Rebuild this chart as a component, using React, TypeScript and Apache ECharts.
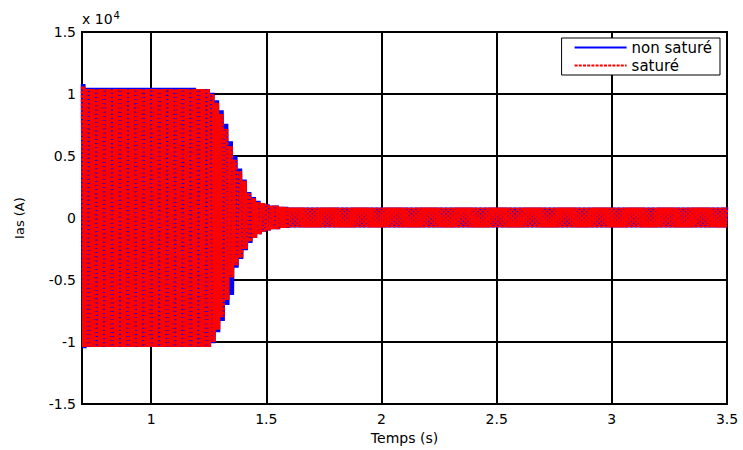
import React, { useEffect, useRef } from "react";
import * as echarts from "echarts";

// Envelope knots (time in s, peaks in units of 1e4 A)
const envTimes = [0.70, 0.72, 1.20, 1.26, 1.28, 1.30, 1.32, 1.34, 1.36, 1.38, 1.40, 1.42, 1.44, 1.46, 1.48, 1.50, 1.52, 1.56, 1.60, 3.50];
const redUpper = [1.06, 1.04, 1.04, 1.00, 0.93, 0.84, 0.72, 0.58, 0.47, 0.38, 0.30, 0.20, 0.16, 0.13, 0.12, 0.11, 0.10, 0.09, 0.085, 0.085];
const redLower = [-1.04, -1.04, -1.04, -1.00, -0.90, -0.80, -0.66, -0.48, -0.38, -0.32, -0.25, -0.19, -0.16, -0.13, -0.11, -0.10, -0.09, -0.08, -0.075, -0.075];
const blueUpper = [1.08, 1.05, 1.04, 1.01, 0.95, 0.87, 0.76, 0.62, 0.50, 0.40, 0.31, 0.21, 0.17, 0.14, 0.12, 0.11, 0.10, 0.09, 0.085, 0.085];
const blueLower = [-1.05, -1.04, -1.04, -1.01, -0.92, -0.83, -0.70, -0.62, -0.40, -0.33, -0.26, -0.20, -0.16, -0.13, -0.11, -0.10, -0.09, -0.08, -0.075, -0.075];

const seriesNames = ["non saturé", "saturé"];
const yTickLabels = ["-1.5", "-1", "-0.5", "0", "0.5", "1", "1.5"];

const tStart = 0.7;
const tEnd = 3.5;
const halfPeriod = 0.005; // drawn peak spacing (s)
const scale = 1e4;

function buildWave(up: number[], lo: number[]): number[][] {
  const pts: number[][] = [];
  const n = Math.round((tEnd - tStart) / halfPeriod);
  let j = 0;
  for (let k = 0; k <= n; k++) {
    const t = +(tStart + k * halfPeriod).toFixed(4);
    while (j + 1 < envTimes.length && envTimes[j + 1] <= t + 1e-9) j++;
    const v = k % 2 === 0 ? up[j] : lo[j];
    pts.push([t, v * scale]);
  }
  return pts;
}

const FONT = "'DejaVu Sans', 'Liberation Sans', Arial, sans-serif";

export default function App() {
  const ref = useRef<HTMLDivElement>(null);
  useEffect(() => {
    if (!ref.current) return;
    const chart = echarts.init(ref.current, undefined, { renderer: "svg" });
    const yLabelMap: Record<string, string> = {};
    [-15000, -10000, -5000, 0, 5000, 10000, 15000].forEach((v, i) => {
      yLabelMap[String(v)] = yTickLabels[i];
    });
    chart.setOption({
      animation: false,
      backgroundColor: "#ffffff",
      textStyle: { fontFamily: FONT },
      grid: {
        left: 82,
        right: 16,
        top: 32,
        bottom: 39,
        show: true,
        borderColor: "#000",
        borderWidth: 2,
        backgroundColor: "transparent",
      },
      legend: {
        data: seriesNames,
        orient: "vertical",
        right: 23,
        top: 38,
        itemWidth: 52,
        itemHeight: 14,
        itemGap: 3,
        padding: [2, 8, 2, 12],
        borderColor: "#000",
        borderWidth: 1,
        backgroundColor: "#fff",
        itemStyle: { opacity: 0 },
        textStyle: { fontSize: 15, color: "#000", fontFamily: FONT },
      },
      graphic: [
        {
          type: "text",
          left: 82,
          top: 10,
          style: {
            text: "x 10{sup|4}",
            fontSize: 14,
            fontFamily: FONT,
            fill: "#000",
            rich: {
              sup: { fontSize: 10, verticalAlign: "top", padding: [0, 0, 8, 1], fontFamily: FONT },
            },
          },
        },
      ],
      xAxis: {
        type: "value",
        min: tStart,
        max: tEnd,
        splitNumber: 6,
        name: "Temps (s)",
        nameLocation: "middle",
        nameGap: 20,
        nameTextStyle: { fontSize: 14, color: "#000", fontFamily: FONT },
        axisLine: { show: true, lineStyle: { color: "#000", width: 2 } },
        axisTick: { show: false },
        axisLabel: {
          showMinLabel: false,
          fontSize: 14,
          color: "#000",
          margin: 8,
          fontFamily: FONT,
        },
        splitLine: { show: true, lineStyle: { color: "#000", width: 2 } },
      },
      yAxis: {
        type: "value",
        min: -15000,
        max: 15000,
        interval: 5000,
        name: "Ias (A)",
        nameLocation: "middle",
        nameGap: 56,
        nameTextStyle: { fontSize: 13, color: "#000", fontFamily: FONT },
        axisLine: { show: true, lineStyle: { color: "#000", width: 2 } },
        axisTick: { show: false },
        axisLabel: {
          fontSize: 14,
          color: "#000",
          margin: 6,
          fontFamily: FONT,
          formatter: (v: number) => yLabelMap[String(Math.round(v))] ?? String(v / scale),
        },
        splitLine: { show: true, lineStyle: { color: "#000", width: 2 } },
      },
      series: [
        {
          name: seriesNames[0],
          type: "line",
          data: buildWave(blueUpper, blueLower),
          symbol: "none",
          showSymbol: false,
          lineStyle: { color: "#0000ff", width: 2.5 },
          itemStyle: { color: "#0000ff" },
          z: 2,
        },
        {
          name: seriesNames[1],
          type: "line",
          data: buildWave(redUpper, redLower),
          symbol: "none",
          showSymbol: false,
          lineStyle: { color: "#ff0000", width: 2.5, type: [3, 1.2] },
          itemStyle: { color: "#ff0000" },
          z: 3,
        },
      ],
    });
    return () => chart.dispose();
  }, []);
  return (
    <div
      ref={ref}
      style={{ position: "fixed", left: 0, top: 0, width: 743, height: 450, background: "#fff" }}
    />
  );
}
